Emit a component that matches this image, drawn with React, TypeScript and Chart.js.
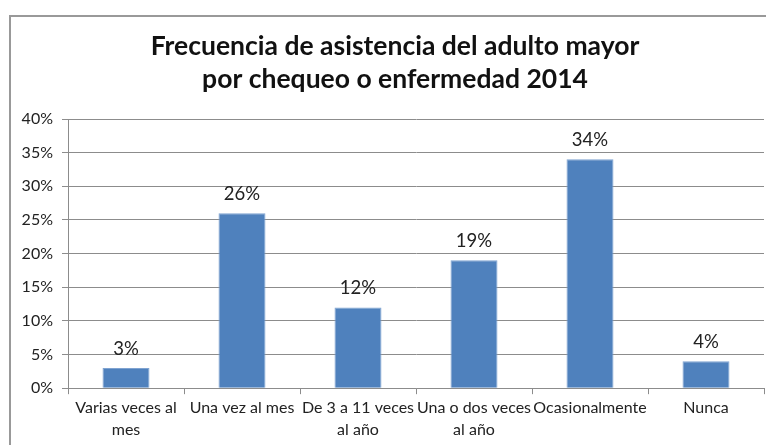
import React, { useEffect, useRef } from "react";
import { Chart, registerables } from "chart.js";

Chart.register(...registerables);

const titleLines = ["Frecuencia de asistencia del adulto mayor", "por chequeo o enfermedad 2014"];
const categories: (string | string[])[] = [
  ["Varias veces al", "mes"],
  "Una vez al mes",
  ["De 3 a 11 veces", "al año"],
  ["Una o dos veces", "al año"],
  "Ocasionalmente",
  "Nunca",
];
const values = [3, 26, 12, 19, 34, 4];
const yMax = 40;
const yStep = 5;

const FONT = "Lato, 'Open Sans', sans-serif";

const valueLabels = {
  id: "valueLabels",
  afterDatasetsDraw(chart: any) {
    const ctx = chart.ctx;
    const meta = chart.getDatasetMeta(0);
    ctx.save();
    ctx.font = `18.5px ${FONT}`;
    ctx.fillStyle = "#222";
    ctx.textAlign = "center";
    ctx.textBaseline = "alphabetic";
    meta.data.forEach((bar: any, i: number) => {
      ctx.fillText(values[i] + "%", bar.x, bar.y - 13);
    });
    ctx.restore();
  },
};

const centeredTitle = {
  id: "centeredTitle",
  afterDraw(chart: any) {
    const ctx = chart.ctx;
    ctx.save();
    ctx.font = `bold 26.5px ${FONT}`;
    ctx.fillStyle = "#111";
    ctx.textAlign = "center";
    ctx.textBaseline = "alphabetic";
    const cx = chart.width / 2 - 1;
    titleLines.forEach((line, i) => {
      ctx.fillText(line, cx, 39 + i * 33);
    });
    ctx.restore();
  },
};

export default function App() {
  const ref = useRef<HTMLCanvasElement>(null);
  useEffect(() => {
    if (!ref.current) return;
    const chart = new Chart(ref.current, {
      type: "bar",
      data: {
        labels: categories,
        datasets: [
          {
            data: values,
            backgroundColor: "#4F81BD",
            borderColor: "#7fa3d1",
            borderWidth: 1,
            categoryPercentage: 1,
            barPercentage: 0.405,
          },
        ],
      },
      options: {
        responsive: false,
        animation: false,
        layout: { padding: { left: 0, right: 18, top: 103, bottom: 1 } },
        plugins: {
          legend: { display: false },
          tooltip: { enabled: false },
          title: { display: false },
        },
        scales: {
          x: {
            grid: {
              offset: true,
              drawOnChartArea: false,
              drawTicks: true,
              tickLength: 6,
              color: "#8c8c8c",
            },
            border: { color: "#8c8c8c" },
            ticks: {
              autoSkip: false,
              maxRotation: 0,
              minRotation: 0,
              padding: 3,
              color: "#222",
              font: { family: FONT, size: 16, lineHeight: 1.37 },
            },
          },
          y: {
            min: 0,
            max: yMax,
            afterFit(scale: any) {
              scale.width = 58;
            },
            grid: {
              color: "#8c8c8c",
              drawTicks: true,
              tickLength: 6,
            },
            border: { color: "#8c8c8c" },
            ticks: {
              stepSize: yStep,
              padding: 9,
              color: "#222",
              font: { family: FONT, size: 16 },
              callback: (v: any) => v + "%",
            },
          },
        },
      },
      plugins: [valueLabels, centeredTitle],
    });
    return () => chart.destroy();
  }, []);

  return (
    <div style={{ position: "relative", width: 766, height: 437, overflow: "hidden" }}>
      <div
        style={{
          position: "absolute",
          left: 1,
          top: 7,
          width: 800,
          height: 460,
          borderLeft: "2px solid #999",
          borderTop: "2px solid #999",
        }}
      />
      <canvas
        ref={ref}
        width={772}
        height={429}
        style={{ position: "absolute", left: 2, top: 8, width: 772, height: 429 }}
      />
    </div>
  );
}
